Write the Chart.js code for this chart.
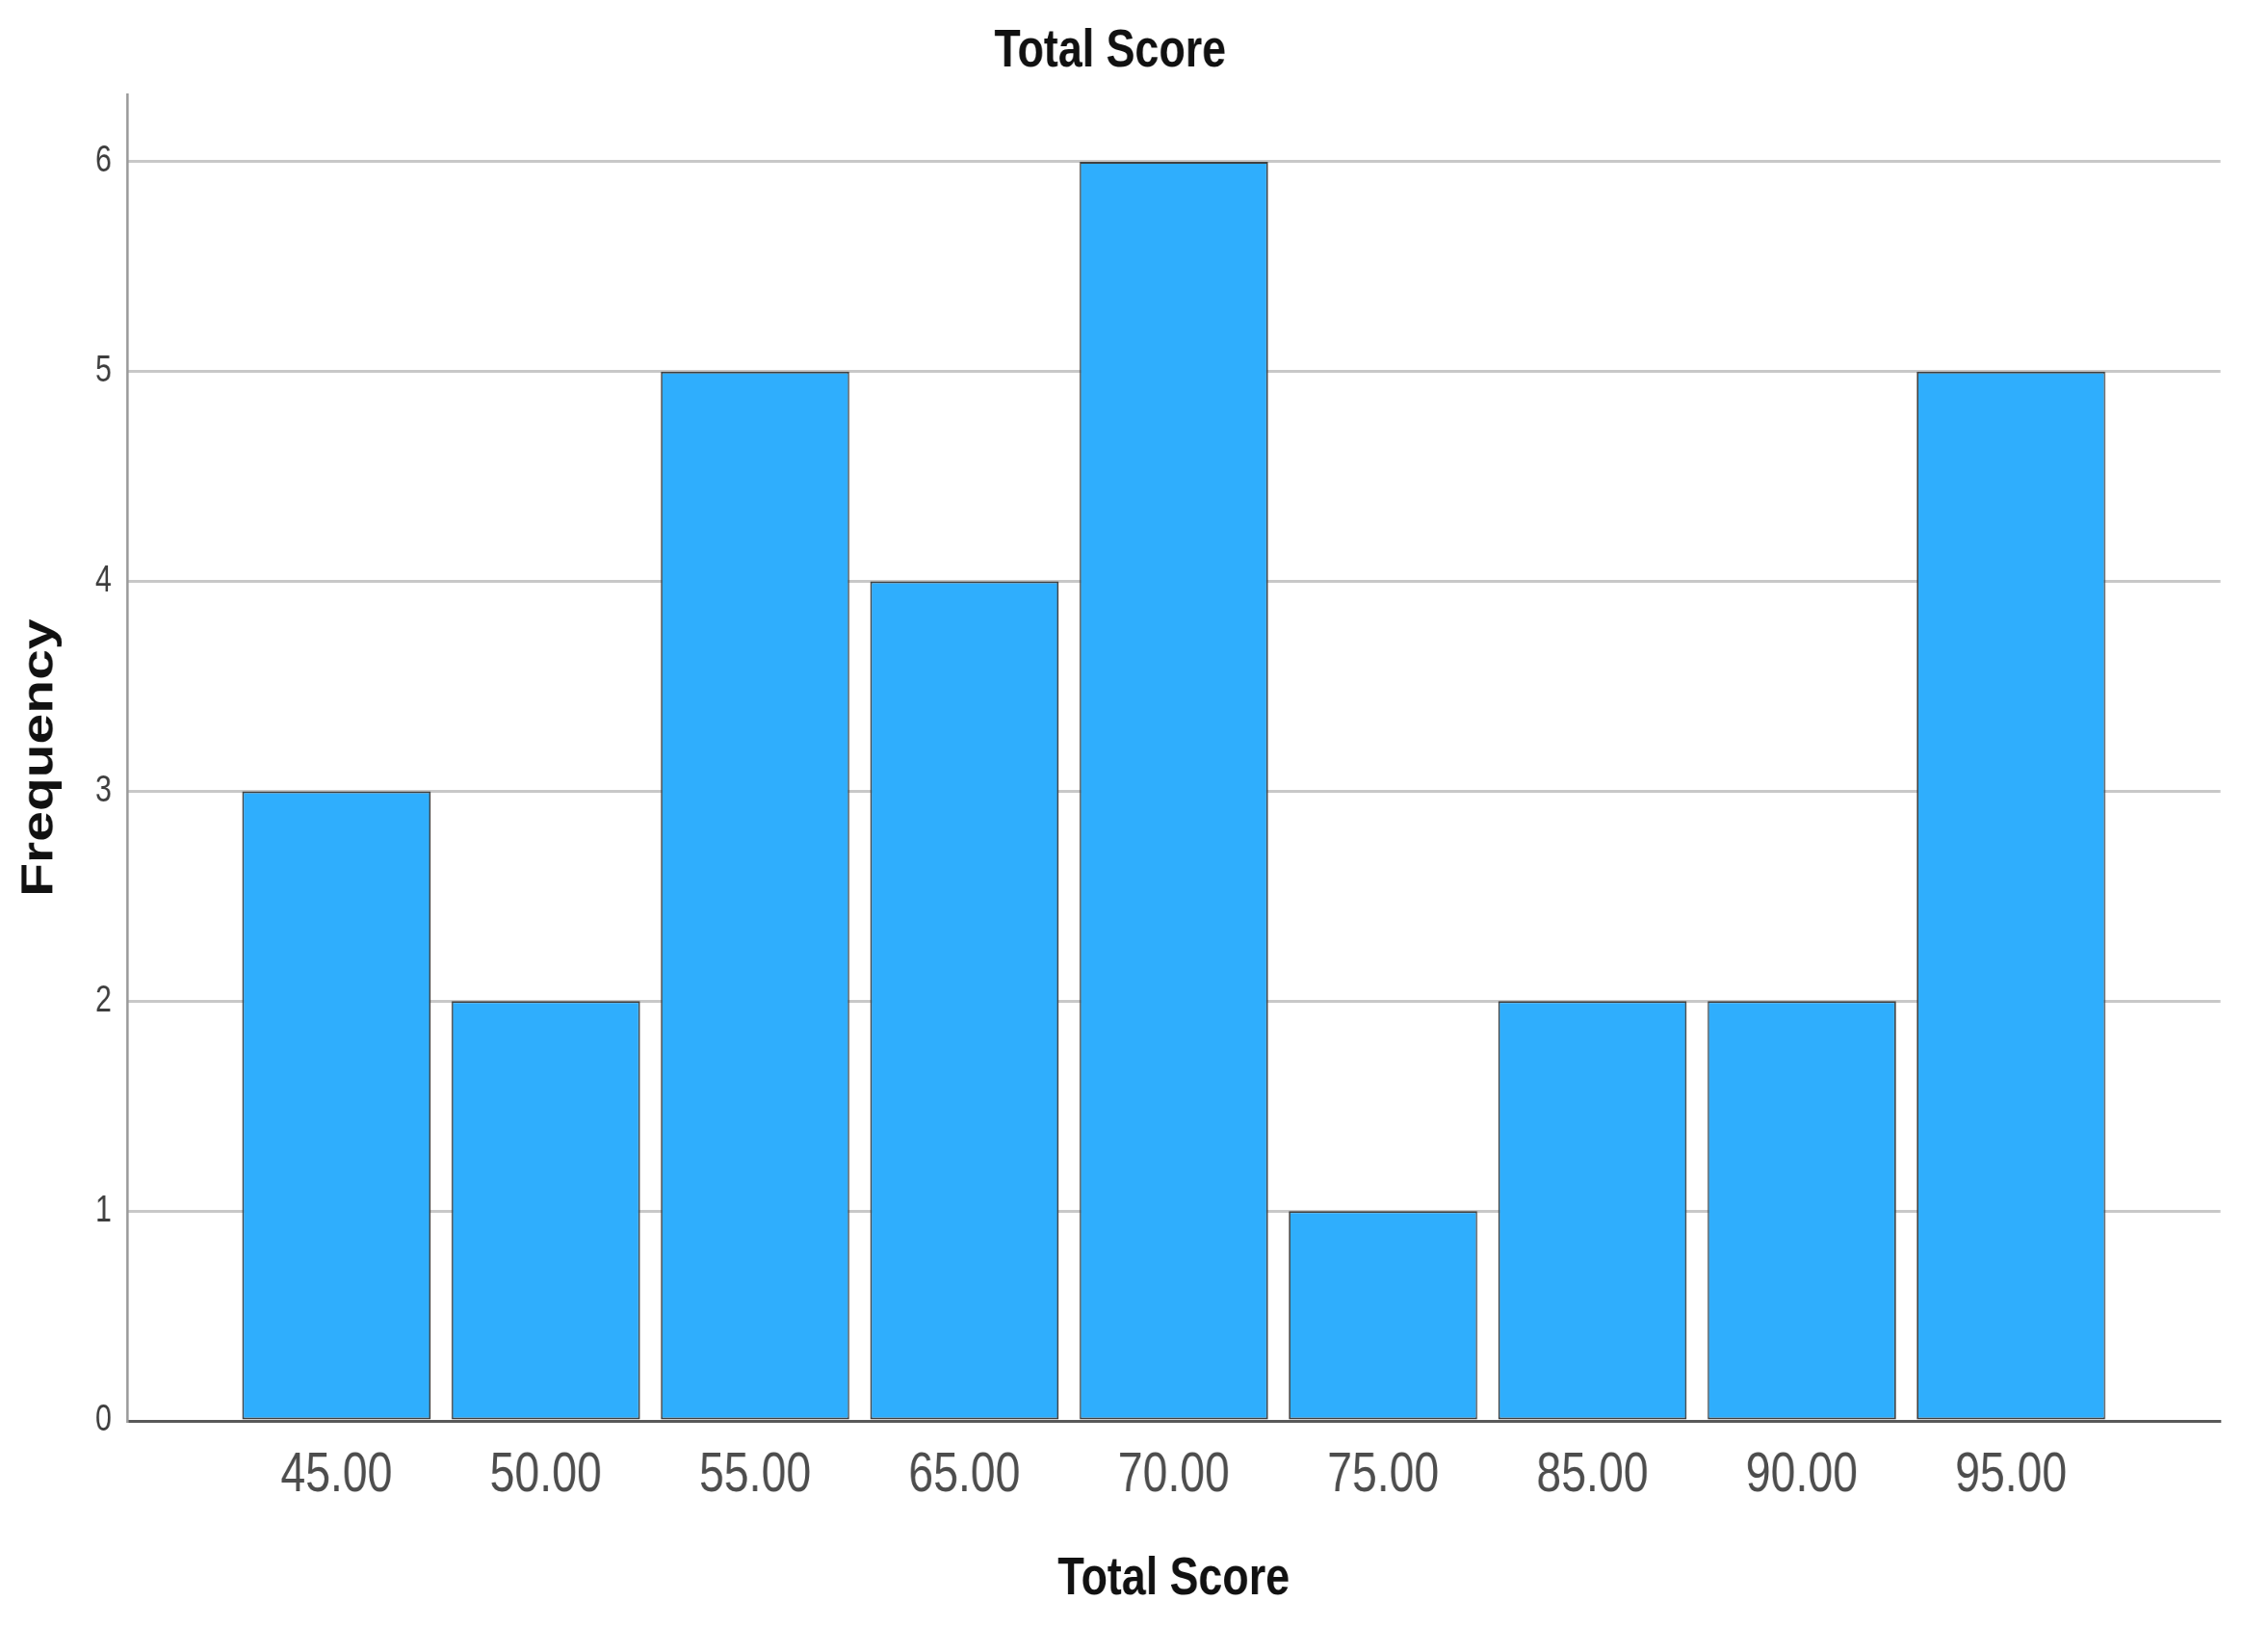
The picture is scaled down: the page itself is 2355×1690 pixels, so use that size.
<!DOCTYPE html>
<html>
<head>
<meta charset="utf-8">
<title>Total Score</title>
<script src="https://cdn.jsdelivr.net/npm/chart.js@4.4.1/dist/chart.umd.min.js"></script>
<style>
    html, body { margin: 0; padding: 0; background: #ffffff; overflow: hidden; }
    /* the source picture is squeezed sideways, so the canvas is drawn wide and scaled down */
    #graficaHistograma { display: block; transform: scaleX(0.8); transform-origin: 0 0; }
</style>
</head>
<body>
<canvas id="graficaHistograma" width="2944" height="1690"></canvas>
<script>
// Data
const categorias = ["45.00", "50.00", "55.00", "65.00", "70.00", "75.00", "85.00", "90.00", "95.00"];
const frecuencias = [3, 2, 5, 4, 6, 1, 2, 2, 5];
const ticksY = [0, 1, 2, 3, 4, 5, 6];

const fuente = "'Liberation Sans', Arial, sans-serif";

document.addEventListener("DOMContentLoaded", () => {
    const ctx = document.getElementById("graficaHistograma").getContext("2d");

    // each bar sits at its category index on a linear axis with one empty slot each side
    const puntos = frecuencias.map((v, i) => ({ x: i, y: v }));

    new Chart(ctx, {
        type: 'bar',
        data: {
            datasets: [{
                label: 'Frequency',
                data: puntos,
                backgroundColor: '#2faefd',
                borderColor: '#404040',
                borderWidth: 2,
                borderSkipped: false,
                categoryPercentage: 1.0,
                barPercentage: 0.9
            }]
        },
        options: {
            responsive: false,
            animation: false,
            layout: { padding: { left: 0, right: 62, top: 0, bottom: 0 } },
            plugins: {
                legend: { display: false },
                tooltip: { enabled: false },
                title: {
                    display: true,
                    text: 'Total Score',
                    color: '#111111',
                    font: { family: fuente, size: 56, weight: 'bold' },
                    padding: { top: 20, bottom: 11 }
                }
            },
            scales: {
                x: {
                    type: 'linear',
                    offset: false,
                    min: -1,
                    max: categorias.length,
                    afterFit: (scale) => { scale.height = 215; },
                    grid: { display: false, drawTicks: false },
                    border: { display: true, color: '#595959', width: 3 },
                    ticks: {
                        stepSize: 1,
                        autoSkip: false,
                        maxRotation: 0,
                        padding: 22,
                        color: '#4d4d4d',
                        font: { family: fuente, size: 58 },
                        callback: (value) => categorias[value] ?? ''
                    },
                    title: {
                        display: true,
                        text: 'Total Score',
                        color: '#111111',
                        font: { family: fuente, size: 56, weight: 'bold' },
                        padding: { top: 0, bottom: 17 }
                    }
                },
                y: {
                    min: 0,
                    max: 6.32,
                    afterFit: (scale) => { scale.width = 165; },
                    // keep only the whole-number ticks (drop the extra max tick)
                    afterBuildTicks: (scale) => {
                        scale.ticks = ticksY.map(v => ({ value: v }));
                    },
                    grid: { color: '#c8c8c8', lineWidth: 3, drawTicks: false },
                    border: { display: true, color: '#9a9a9a', width: 3 },
                    ticks: {
                        stepSize: 1,
                        padding: 20,
                        color: '#3d3d3d',
                        font: { family: fuente, size: 38 }
                    },
                    title: {
                        display: true,
                        text: 'Frequency',
                        color: '#111111',
                        font: { family: fuente, size: 57, weight: 'bold' },
                        padding: { top: 18, bottom: 0 }
                    }
                }
            }
        }
    });
});
</script>
</body>
</html>
